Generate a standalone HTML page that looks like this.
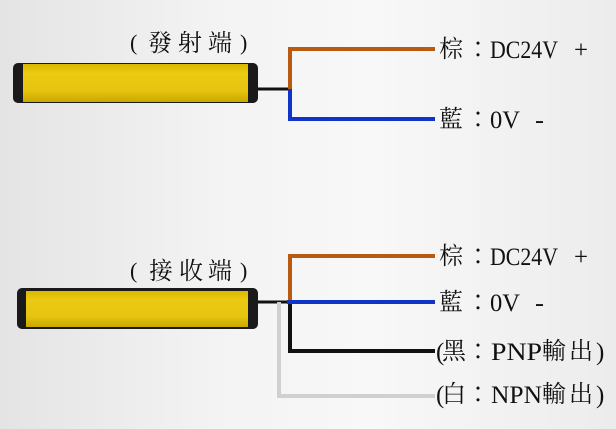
<!DOCTYPE html>
<html><head><meta charset="utf-8"><style>
html,body{margin:0;padding:0}
body{width:616px;height:424px;overflow:hidden;background:linear-gradient(90deg,#e4e4e4 0%,#f3f3f3 35%,#f8f8f8 60%,#ececec 100%)}
svg text{font-family:"Liberation Serif","Noto Serif CJK TC",serif;fill:#111}
.c{font-size:24px}
.l{font-size:25px}
</style></head><body>
<svg width="616" height="424" viewBox="0 0 616 424" xmlns="http://www.w3.org/2000/svg">
<defs>
<linearGradient id="y" x1="0" y1="0" x2="0" y2="1">
<stop offset="0" stop-color="#d8b800"/><stop offset="0.25" stop-color="#ecca12"/><stop offset="0.7" stop-color="#e6c410"/><stop offset="1" stop-color="#c9a800"/>
</linearGradient>
</defs>
<!-- top sensor -->
<rect x="13" y="63" width="245" height="40" rx="5" fill="#1a1a1a"/>
<rect x="23" y="64" width="225" height="38" fill="url(#y)"/>
<line x1="258" y1="89" x2="291" y2="89" stroke="#111" stroke-width="3"/>
<polyline points="435,49 290,49 290,89" fill="none" stroke="#b85a12" stroke-width="4"/>
<polyline points="290,89 290,119 435,119" fill="none" stroke="#1033c8" stroke-width="4"/>
<g class="c">
<text x="130" y="50" font-size="22">(</text><text x="148" y="51">發</text><text x="178" y="51">射</text><text x="208" y="51">端</text><text x="240" y="50" font-size="22">)</text>
</g>
<text class="c" x="439" y="57">棕</text><text class="c" x="466" y="57">：</text>
<text class="l" x="490" y="58" textLength="68" lengthAdjust="spacingAndGlyphs">DC24V</text>
<text class="l" x="574" y="58" textLength="14" lengthAdjust="spacingAndGlyphs">+</text>
<text class="c" x="439" y="127">藍</text><text class="c" x="466" y="127">：</text>
<text class="l" x="490" y="128" textLength="30" lengthAdjust="spacingAndGlyphs">0V</text>
<text class="l" x="535" y="128" textLength="9" lengthAdjust="spacingAndGlyphs">-</text>
<!-- bottom sensor -->
<rect x="17" y="288" width="241" height="41" rx="5" fill="#1a1a1a"/>
<rect x="26" y="291" width="222" height="36" fill="url(#y)"/>
<line x1="258" y1="302" x2="290" y2="302" stroke="#111" stroke-width="3"/>
<polyline points="435,396 279,396 279,302" fill="none" stroke="#d0d0d0" stroke-width="4"/>
<polyline points="290,302 290,351 435,351" fill="none" stroke="#111" stroke-width="4"/>
<polyline points="435,256 290,256 290,302" fill="none" stroke="#b85a12" stroke-width="4"/>
<line x1="287" y1="302" x2="435" y2="302" stroke="#1033c8" stroke-width="4"/>
<g class="c">
<text x="130" y="278" font-size="22">(</text><text x="149" y="279">接</text><text x="179" y="279">收</text><text x="208" y="279">端</text><text x="240" y="278" font-size="22">)</text>
</g>
<text class="c" x="439" y="264">棕</text><text class="c" x="466" y="264">：</text>
<text class="l" x="490" y="265" textLength="68" lengthAdjust="spacingAndGlyphs">DC24V</text>
<text class="l" x="574" y="265" textLength="14" lengthAdjust="spacingAndGlyphs">+</text>
<text class="c" x="439" y="310">藍</text><text class="c" x="466" y="310">：</text>
<text class="l" x="490" y="311" textLength="30" lengthAdjust="spacingAndGlyphs">0V</text>
<text class="l" x="535" y="311" textLength="9" lengthAdjust="spacingAndGlyphs">-</text>
<text class="l" x="436" y="360">(</text><text class="c" x="442" y="359">黑</text><text class="c" x="466" y="359">：</text>
<text class="l" x="491" y="360" textLength="51" lengthAdjust="spacingAndGlyphs">PNP</text>
<text class="c" x="542" y="359">輸</text><text class="c" x="569" y="359">出</text><text class="l" x="596" y="360">)</text>
<text class="l" x="436" y="403">(</text><text class="c" x="442" y="402">白</text><text class="c" x="466" y="402">：</text>
<text class="l" x="491" y="403" textLength="51" lengthAdjust="spacingAndGlyphs">NPN</text>
<text class="c" x="542" y="402">輸</text><text class="c" x="569" y="402">出</text><text class="l" x="596" y="403">)</text>
</svg>
</body></html>
